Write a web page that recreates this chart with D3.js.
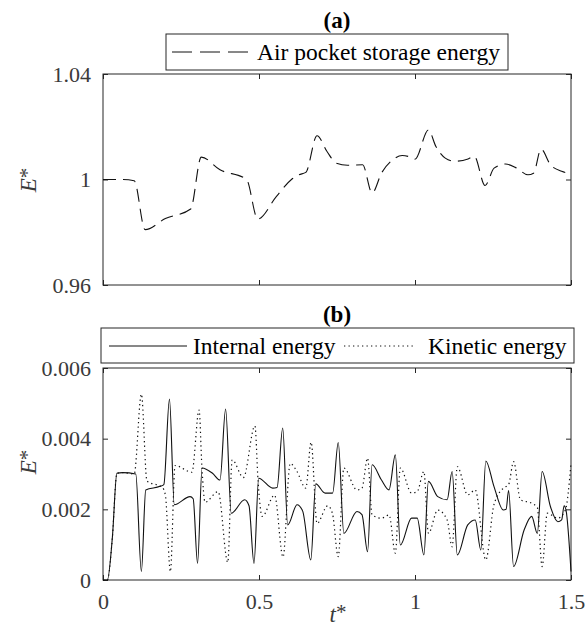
<!DOCTYPE html>
<html>
<head>
<meta charset="utf-8">
<script src="https://cdn.jsdelivr.net/npm/d3@7"></script>
<style>
  body { margin: 0; background: #fff; }
  svg text { font-family: "Liberation Serif", "Times New Roman", serif; }
</style>
</head>
<body>
<div id="plot"></div>
<script>
// panel (a): air pocket storage energy
const airT = [0, 0.063, 0.1, 0.135, 0.2, 0.281, 0.315, 0.375, 0.46, 0.496, 0.556, 0.604, 0.628, 0.65, 0.686, 0.718, 0.748, 0.784, 0.832, 0.8625, 0.893, 0.929, 0.959, 0.985, 1.0, 1.043, 1.067, 1.097, 1.127, 1.17, 1.19, 1.2246, 1.2535, 1.29, 1.326, 1.362, 1.38, 1.404, 1.434, 1.47, 1.5];
const airE = [1.0, 1.0, 0.9995, 0.981, 0.9852, 0.9888, 1.0085, 1.0037, 1.0, 0.985, 0.9936, 1.0, 1.0018, 1.0027, 1.0166, 1.0106, 1.0062, 1.0054, 1.0056, 0.9949, 1.0025, 1.0075, 1.0091, 1.0085, 1.0077, 1.0188, 1.0125, 1.0081, 1.0069, 1.0078, 1.0088, 0.9977, 1.0043, 1.0059, 1.0043, 1.0018, 1.0024, 1.0115, 1.0056, 1.0031, 1.0022];

// panel (b): internal energy
const intT = [0, 0.014, 0.03, 0.0445, 0.0625, 0.105, 0.123, 0.137, 0.183, 0.195, 0.213, 0.2286, 0.279, 0.289, 0.303, 0.3176, 0.351, 0.375, 0.393, 0.411, 0.454, 0.468, 0.484, 0.499, 0.544, 0.558, 0.576, 0.592, 0.622, 0.64, 0.666, 0.682, 0.712, 0.736, 0.754, 0.772, 0.814, 0.83, 0.848, 0.8625, 0.8926, 0.9166, 0.937, 0.953, 0.989, 1.007, 1.0285, 1.043, 1.073, 1.103, 1.119, 1.1356, 1.169, 1.193, 1.211, 1.227, 1.253, 1.283, 1.292, 1.3, 1.316, 1.35, 1.374, 1.392, 1.4075, 1.434, 1.458, 1.47, 1.478, 1.484, 1.5];
const intE = [0, 0, 0.0012, 0.00302, 0.00304, 0.0030, 0.00024, 0.00255, 0.00265, 0.0027, 0.00512, 0.00213, 0.00236, 0.0023, 0.00047, 0.00317, 0.00302, 0.00283, 0.00484, 0.00189, 0.00227, 0.0021, 0.00047, 0.00288, 0.0026, 0.00262, 0.0043, 0.00156, 0.00213, 0.00195, 0.00057, 0.00272, 0.00246, 0.00246, 0.00389, 0.00132, 0.00194, 0.00185, 0.0008, 0.00326, 0.00283, 0.00255, 0.00354, 0.00099, 0.00175, 0.00175, 0.00071, 0.00279, 0.00236, 0.00227, 0.00307, 0.00071, 0.00156, 0.0017, 0.00085, 0.00337, 0.00265, 0.00198, 0.002, 0.00253, 0.00038, 0.00142, 0.0018, 0.00132, 0.00307, 0.00208, 0.00165, 0.0017, 0.0021, 0.00198, 0.00024];

// panel (b): kinetic energy
const kinT = [0, 0.014, 0.03, 0.0445, 0.0625, 0.1, 0.123, 0.141, 0.19, 0.2, 0.216, 0.231, 0.285, 0.308, 0.317, 0.327, 0.369, 0.4, 0.414, 0.45, 0.487, 0.497, 0.51, 0.55, 0.577, 0.6, 0.62, 0.65, 0.667, 0.686, 0.72, 0.735, 0.754, 0.772, 0.814, 0.83, 0.848, 0.8625, 0.893, 0.917, 0.937, 0.953, 0.989, 1.007, 1.0285, 1.043, 1.073, 1.103, 1.119, 1.1356, 1.169, 1.193, 1.227, 1.253, 1.283, 1.3, 1.316, 1.338, 1.374, 1.392, 1.4075, 1.424, 1.458, 1.482, 1.5];
const kinE = [0, 0, 0.0012, 0.00302, 0.00304, 0.0030, 0.00526, 0.0028, 0.00262, 0.0024, 0.00024, 0.00324, 0.00305, 0.00481, 0.0032, 0.0022, 0.0025, 0.0005, 0.0034, 0.0029, 0.00436, 0.0028, 0.0018, 0.0024, 0.00065, 0.0033, 0.0031, 0.0026, 0.0039, 0.0016, 0.0021, 0.0019, 0.00066, 0.00317, 0.00255, 0.0026, 0.00345, 0.00184, 0.00175, 0.00184, 0.00076, 0.00317, 0.00246, 0.0025, 0.00307, 0.00132, 0.00198, 0.0017, 0.00094, 0.00321, 0.00241, 0.00255, 0.00057, 0.00213, 0.0026, 0.0027, 0.00335, 0.00227, 0.00217, 0.00205, 0.00038, 0.00189, 0.00175, 0.00198, 0.00331];

const xTicks = [0, 0.5, 1, 1.5];
const aTicks = [0.96, 1, 1.04];
const bTicks = [0, 0.002, 0.004, 0.006];

const width = 588, height = 628;
const left = 103, right = 571;
const axisColor = "#262626";
const serif = "'Liberation Serif', 'Times New Roman', serif";

const svg = d3.select("#plot").append("svg")
  .attr("width", width)
  .attr("height", height);

const x = d3.scaleLinear().domain([0, 1.5]).range([left, right]);

function drawPanel(top, bottom, yDomain, yTicks, yFmt, showX, labelY) {
  const y = d3.scaleLinear().domain(yDomain).range([bottom, top]);
  const g = svg.append("g");

  // ticks on all four sides, pointing inward
  g.append("g").attr("class", "xb").attr("transform", `translate(0,${bottom})`)
    .call(d3.axisBottom(x).tickValues(xTicks).tickSizeInner(-5).tickSizeOuter(0)
      .tickFormat(showX ? d3.format("") : () => ""))
    .call(a => a.select(".domain").remove());
  g.append("g").attr("transform", `translate(0,${top})`)
    .call(d3.axisTop(x).tickValues(xTicks).tickSizeInner(-5).tickSizeOuter(0).tickFormat(() => ""))
    .call(a => a.select(".domain").remove());
  g.append("g").attr("class", "yl").attr("transform", `translate(${left},0)`)
    .call(d3.axisLeft(y).tickValues(yTicks).tickSizeInner(-5).tickSizeOuter(0).tickFormat(yFmt))
    .call(a => a.select(".domain").remove());
  g.append("g").attr("transform", `translate(${right},0)`)
    .call(d3.axisRight(y).tickValues(yTicks).tickSizeInner(-5).tickSizeOuter(0).tickFormat(() => ""))
    .call(a => a.select(".domain").remove());

  g.selectAll(".tick line").attr("stroke", axisColor);
  g.selectAll(".tick text")
    .attr("fill", "#3a3a3a")
    .style("font-size", "22px")
    .style("font-family", serif);
  g.selectAll(".yl .tick text").attr("x", -12);
  g.selectAll(".xb .tick text").attr("y", 13);

  g.append("rect")
    .attr("x", left).attr("y", top)
    .attr("width", right - left).attr("height", bottom - top)
    .attr("fill", "none").attr("stroke", axisColor).attr("stroke-width", 1);

  // y label
  svg.append("text")
    .attr("transform", `translate(36,${labelY}) rotate(-90)`)
    .attr("text-anchor", "middle")
    .attr("fill", "#3a3a3a")
    .style("font-size", "23px")
    .html('<tspan font-style="italic">E</tspan><tspan font-size="21px" dy="-2">*</tspan>');

  return y;
}

// ----- panel (a)
const yA = drawPanel(74, 285, [0.96, 1.04], aTicks, d3.format(""), false, 180);

svg.append("path")
  .datum(airT.map((t, i) => [t, airE[i]]))
  .attr("fill", "none")
  .attr("stroke", "#111")
  .attr("stroke-width", 1.1)
  .attr("stroke-dasharray", "13,7")
  .attr("d", d3.line().x(d => x(d[0])).y(d => yA(d[1])).curve(d3.curveMonotoneX));

svg.append("text")
  .attr("x", (left + right) / 2).attr("y", 28)
  .attr("text-anchor", "middle")
  .style("font-size", "23px").style("font-weight", "bold")
  .text("(a)");

const legA = svg.append("g");
legA.append("rect").attr("x", 166).attr("y", 34).attr("width", 342).attr("height", 36)
  .attr("fill", "#fff").attr("stroke", axisColor);
legA.append("line").attr("x1", 172).attr("x2", 250).attr("y1", 52).attr("y2", 52)
  .attr("stroke", "#111").attr("stroke-dasharray", "20,8");
legA.append("text").attr("x", 257).attr("y", 60)
  .style("font-size", "23.5px").text("Air pocket storage energy");

// ----- panel (b)
const yB = drawPanel(368, 580, [0, 0.006], bTicks, d => d === 0 ? "0" : d3.format(".3f")(d), true, 462);

const lineB = d3.line().x(d => x(d[0])).y(d => yB(d[1])).curve(d3.curveMonotoneX);

svg.append("path")
  .datum(kinT.map((t, i) => [t, kinE[i]]))
  .attr("fill", "none")
  .attr("stroke", "#111")
  .attr("stroke-width", 1.2)
  .attr("stroke-dasharray", "1.3,3.2")
  .attr("d", lineB);

svg.append("path")
  .datum(intT.map((t, i) => [t, intE[i]]))
  .attr("fill", "none")
  .attr("stroke", "#111")
  .attr("stroke-width", 1.1)
  .attr("d", lineB);

svg.append("text")
  .attr("x", (left + right) / 2).attr("y", 322)
  .attr("text-anchor", "middle")
  .style("font-size", "23px").style("font-weight", "bold")
  .text("(b)");

const legB = svg.append("g");
legB.append("rect").attr("x", 101).attr("y", 328).attr("width", 473).attr("height", 35)
  .attr("fill", "#fff").attr("stroke", axisColor);
legB.append("line").attr("x1", 109).attr("x2", 187).attr("y1", 346).attr("y2", 346)
  .attr("stroke", "#111");
legB.append("text").attr("x", 193).attr("y", 354)
  .style("font-size", "23.5px").text("Internal energy");
legB.append("line").attr("x1", 344).attr("x2", 416).attr("y1", 346).attr("y2", 346)
  .attr("stroke", "#111").attr("stroke-dasharray", "1.3,3.2");
legB.append("text").attr("x", 428).attr("y", 354)
  .style("font-size", "23.5px").text("Kinetic energy");

// x label
svg.append("text")
  .attr("x", 338).attr("y", 622)
  .attr("text-anchor", "middle")
  .attr("fill", "#3a3a3a")
  .style("font-size", "23px")
  .html('<tspan font-style="italic">t</tspan><tspan font-size="21px" dy="-3">*</tspan>');
</script>
</body>
</html>
